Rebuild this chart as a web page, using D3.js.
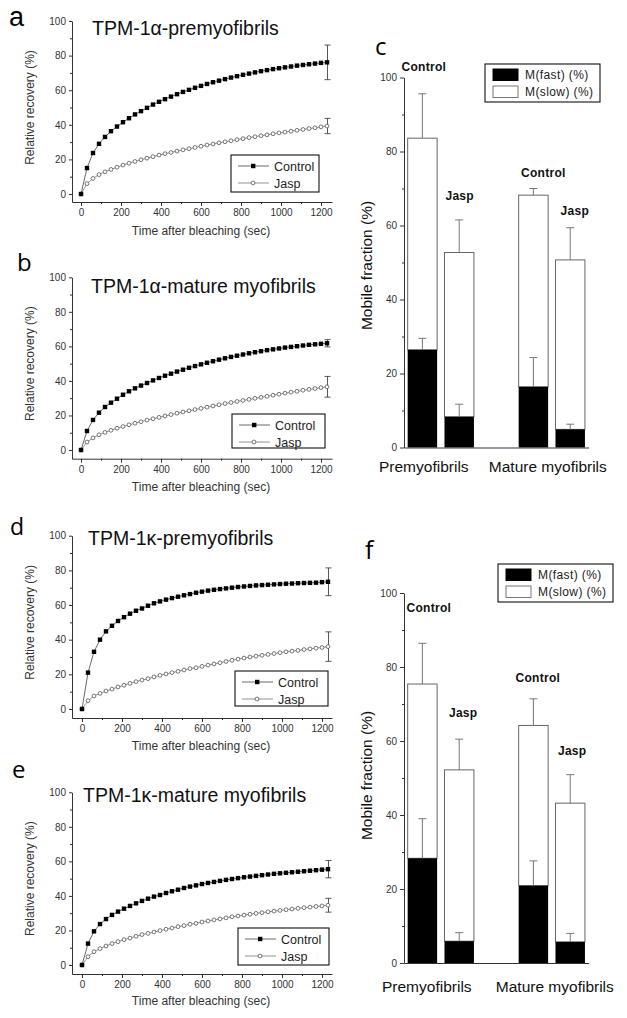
<!DOCTYPE html>
<html><head><meta charset="utf-8">
<script src="https://cdn.jsdelivr.net/npm/d3@7/dist/d3.min.js"></script>
<style>
body{margin:0;background:#fff;}
svg{display:block;font-family:"Liberation Sans",Arial,sans-serif;}
</style></head><body>
<svg id="fig" width="627" height="1018"></svg>
<script>
// ---------- DATA ----------
const times = [0,30,60,90,120,150,180,210,240,270,300,330,360,390,420,450,480,510,540,570,600,630,660,690,720,750,780,810,840,870,900,930,960,990,1020,1050,1080,1110,1140,1170,1200,1230];
const xTickLabels = [0,200,400,600,800,1000,1200];
const xMinorTicks = [100,300,500,700,900,1100];
const yTickLabels = [0,20,40,60,80,100];
const yMinorTicks = [10,30,50,70,90];
const seriesNames = ["Control","Jasp"];

const aControl = [0,15,23.7,29,33,36.3,39,41.5,43.8,46,47.9,49.8,51.7,53.3,54.8,56.3,57.7,59.0,60.2,61.4,62.5,63.6,64.6,65.5,66.4,67.3,68.1,68.9,69.6,70.3,71.0,71.6,72.2,72.7,73.2,73.7,74.2,74.6,75.0,75.4,75.8,76.1];
const aJasp = [0,6.0,9.0,11.2,12.8,14.2,15.5,16.7,17.8,18.8,19.8,20.7,21.6,22.5,23.3,24.0,24.8,25.5,26.2,26.9,27.6,28.3,28.9,29.6,30.2,30.8,31.4,32.0,32.6,33.1,33.7,34.2,34.8,35.3,35.8,36.3,36.8,37.3,37.8,38.3,38.8,39.3];
const aErr = [10, 4.4];

const bControl = [0,11,17.4,21.6,24.9,27.4,29.7,32,34,35.7,37.3,38.8,40.3,41.7,43,44.2,45.4,46.5,47.6,48.6,49.6,50.5,51.4,52.3,53.1,53.9,54.6,55.3,56.0,56.6,57.2,57.8,58.3,58.8,59.3,59.7,60.1,60.5,60.9,61.2,61.5,61.8];
const bJasp = [0,4.6,7.0,8.8,10.2,11.4,12.6,13.6,14.6,15.5,16.4,17.3,18.1,18.9,19.7,20.5,21.3,22.0,22.7,23.4,24.1,24.8,25.5,26.2,26.9,27.5,28.1,28.7,29.3,29.9,30.5,31.1,31.7,32.3,32.9,33.5,34.0,34.6,35.1,35.6,36.1,36.6];
const bErr = [2.1, 6];

const dControl = [0,21,33,40,44.8,48,50.8,53,55,56.7,58,59.6,61,62.1,63.1,64,64.8,65.6,66.3,67.1,67.7,68.3,68.8,69.2,69.6,70.0,70.4,70.7,71.0,71.3,71.5,71.7,71.9,72.1,72.3,72.4,72.6,72.7,72.8,72.9,73.2,73.4];
const dJasp = [0,4.8,7.5,9,10.4,11.5,12.7,13.7,14.8,15.8,16.7,17.5,18.5,19.4,20.2,21,21.7,22.5,23.3,23.8,24.6,25.3,26.0,26.7,27.4,28.1,28.8,29.4,30.0,30.5,31.0,31.5,32.0,32.5,33.0,33.4,33.8,34.3,34.7,35.1,35.5,36.0];
const dErr = [8, 8.5];

const eControl = [0,12.4,19.5,23.7,26.6,29,30.9,32.6,34.2,35.7,37.1,38.4,39.6,40.5,41.7,42.7,43.6,44.6,45.4,46.1,46.9,47.5,48.1,48.7,49.3,49.8,50.3,50.8,51.2,51.6,52.0,52.4,52.8,53.1,53.4,53.7,54.0,54.3,54.6,54.9,55.2,55.5];
const eJasp = [0,4.8,7.7,9.5,11,12.4,13.5,14.7,15.6,16.6,17.6,18.3,19.1,19.9,20.7,21.4,22.2,22.8,23.6,24.1,24.9,25.5,26.1,26.7,27.3,27.9,28.4,28.9,29.4,29.9,30.3,30.8,31.2,31.6,32.0,32.4,32.8,33.2,33.5,33.9,34.2,34.6];
const eErr = [5, 4];

const barGroups = ["Premyofibrils","Mature myofibrils"];
const barConds = ["Control","Jasp"];
const barKeys = ["M(fast) (%)","M(slow) (%)"];
// order: Premyo-Control, Premyo-Jasp, Mature-Control, Mature-Jasp
const cFast = [26.4, 8.3, 16.4, 4.9];
const cFastErr = [3.1, 3.4, 7.9, 1.4];
const cSlow = [57.2, 44.4, 51.8, 45.8];
const cTotalErr = [12.0, 8.8, 1.8, 8.7];

const fFast = [28.3, 5.9, 20.9, 5.7];
const fFastErr = [10.7, 2.3, 6.7, 2.3];
const fSlow = [47.1, 46.3, 43.3, 37.5];
const fTotalErr = [11.0, 8.3, 7.2, 7.7];

// ---------- DRAW ----------
const svg = d3.select("#fig");
const AX = "#333";
const fmt = d3.format("d");

function styleAxis(s, fs){
  s.select(".domain").attr("stroke", AX).attr("stroke-width", 1);
  s.selectAll(".tick line").attr("stroke", AX).attr("stroke-width", 1);
  s.selectAll(".tick text").attr("fill", "#333").attr("font-size", fs || 10)
    .attr("font-family", '"Liberation Sans", Arial, sans-serif');
}

const linePanels = [
  {letter:"a", letterX:9, letterY:25.5, letterSize:27, letterFont:'"Liberation Sans",Arial,sans-serif', title:"TPM-1\u03b1-premyofibrils", titleX:92, titleY:34.5,
   ctrl:aControl, jasp:aJasp, err:aErr, x0:81, yTop:21, yZero:194, axisY:202, xLabelY:235, legX:231, legY:155, legW:88, legH:37},
  {letter:"b", letterX:17, letterY:271, letterSize:24, title:"TPM-1\u03b1-mature myofibrils", titleX:91, titleY:293,
   ctrl:bControl, jasp:bJasp, err:bErr, x0:81, yTop:277.3, yZero:450, axisY:458.7, xLabelY:491, legX:232, legY:414, legW:93, legH:34},
  {letter:"d", letterX:10, letterY:535, letterSize:23, title:"TPM-1\u03ba-premyofibrils", titleX:88, titleY:545,
   ctrl:dControl, jasp:dJasp, err:dErr, x0:82, yTop:535.7, yZero:709, axisY:718, xLabelY:750, legX:235, legY:671, legW:93, legH:35},
  {letter:"e", letterX:12, letterY:778, letterSize:24, title:"TPM-1\u03ba-mature myofibrils", titleX:83, titleY:802,
   ctrl:eControl, jasp:eJasp, err:eErr, x0:82, yTop:792.3, yZero:965, axisY:974, xLabelY:1005, legX:238, legY:928, legW:91, legH:37}
];

function drawLinePanel(p){
  const g = svg.append("g");
  const k = (p.yZero - p.yTop) / 100;
  const x = d3.scaleLinear().domain([(72 - p.x0) / 0.2, (332 - p.x0) / 0.2]).range([72, 332]);
  const y = d3.scaleLinear().domain([-(p.axisY - p.yZero) / k, 100]).range([p.axisY, p.yTop]);

  g.append("g").attr("transform", `translate(0,${p.axisY})`)
    .call(d3.axisBottom(x).tickValues(xTickLabels).tickFormat(fmt).tickSize(4).tickSizeOuter(0).tickPadding(3))
    .call(s => styleAxis(s, 10));
  g.append("g").attr("transform", `translate(0,${p.axisY})`)
    .call(d3.axisBottom(x).tickValues(xMinorTicks).tickSize(2).tickFormat(""))
    .call(s => { s.select(".domain").remove(); styleAxis(s); });
  g.append("g").attr("transform", `translate(72,0)`)
    .call(d3.axisLeft(y).tickValues(yTickLabels).tickFormat(fmt).tickSize(3).tickSizeOuter(0).tickPadding(3))
    .call(s => styleAxis(s, 10));
  g.append("g").attr("transform", `translate(72,0)`)
    .call(d3.axisLeft(y).tickValues(yMinorTicks).tickSize(2).tickFormat(""))
    .call(s => { s.select(".domain").remove(); styleAxis(s); });

  // labels
  g.append("text").attr("x", p.letterX).attr("y", p.letterY).text(p.letter)
    .attr("font-family", p.letterFont || '"Open Sans","Noto Sans",sans-serif').attr("font-size", p.letterSize).attr("fill", "#000");
  g.append("text").attr("x", p.titleX).attr("y", p.titleY).text(p.title)
    .attr("font-size", 19.5).attr("fill", "#111");
  g.append("text").attr("transform", `translate(34,${(p.yTop + p.yZero) / 2}) rotate(-90)`)
    .attr("text-anchor", "middle").attr("font-size", 12).attr("fill", "#333").text("Relative recovery (%)");
  g.append("text").attr("x", 201).attr("y", p.xLabelY).attr("text-anchor", "middle")
    .attr("font-size", 12).attr("fill", "#333").text("Time after bleaching (sec)");

  const line = d3.line().x((d, i) => x(times[i])).y(d => y(d));
  g.append("path").datum(p.jasp).attr("d", line).attr("fill", "none").attr("stroke", "#777").attr("stroke-width", 0.8);
  g.append("path").datum(p.ctrl).attr("d", line).attr("fill", "none").attr("stroke", "#444").attr("stroke-width", 0.8);

  // error bars at last point
  const li = times.length - 1;
  [[p.ctrl, p.err[0]], [p.jasp, p.err[1]]].forEach(([s, e]) => {
    const cx = x(times[li]) + 0.5, v = s[li];
    const eg = g.append("g").attr("stroke", "#444").attr("stroke-width", 0.9);
    eg.append("line").attr("x1", cx).attr("x2", cx).attr("y1", y(v - e)).attr("y2", y(v + e));
    eg.append("line").attr("x1", cx - 3).attr("x2", cx + 3).attr("y1", y(v - e)).attr("y2", y(v - e));
    eg.append("line").attr("x1", cx - 3).attr("x2", cx + 3).attr("y1", y(v + e)).attr("y2", y(v + e));
  });

  g.append("g").selectAll("circle").data(p.jasp).join("circle")
    .attr("cx", (d, i) => x(times[i])).attr("cy", d => y(d)).attr("r", 1.9)
    .attr("fill", "#fff").attr("stroke", "#555").attr("stroke-width", 0.8);
  g.append("g").selectAll("rect").data(p.ctrl).join("rect")
    .attr("x", (d, i) => x(times[i]) - 2.2).attr("y", d => y(d) - 2.2)
    .attr("width", 4.4).attr("height", 4.4).attr("fill", "#000");

  // legend
  const lg = g.append("g").attr("transform", `translate(${p.legX},${p.legY})`);
  lg.append("rect").attr("width", p.legW).attr("height", p.legH).attr("fill", "#fff").attr("stroke", "#111").attr("stroke-width", 1.1);
  seriesNames.forEach((name, i) => {
    const cy = i === 0 ? 11 : 28;
    lg.append("line").attr("x1", 7).attr("x2", 38).attr("y1", cy).attr("y2", cy)
      .attr("stroke", i === 0 ? "#444" : "#777").attr("stroke-width", 0.8);
    if (i === 0) lg.append("rect").attr("x", 20).attr("y", cy - 2.2).attr("width", 4.4).attr("height", 4.4).attr("fill", "#000");
    else lg.append("circle").attr("cx", 22).attr("cy", cy).attr("r", 1.9).attr("fill", "#fff").attr("stroke", "#555").attr("stroke-width", 0.8);
    lg.append("text").attr("x", 43).attr("y", cy + 4.5).attr("font-size", 12.5).attr("fill", "#222").text(name);
  });
}
linePanels.forEach(drawLinePanel);

const barPanels = [
  {letter:"c", letterX:375, letterY:55, letterSize:24, fast:cFast, fastErr:cFastErr, slow:cSlow, totalErr:cTotalErr,
   yTop:77.5, yZero:447.5, yLabelY:265.5, catY:472, catDx:[-17,-4],
   labDy:[23,20,12,12.6], labDx:[1.5,0.5,10,4.6], legX:485, legY:64, legW:115, legH:38},
  {letter:"f", letterX:365, letterY:559, letterSize:25, fast:fFast, fastErr:fFastErr, slow:fSlow, totalErr:fTotalErr,
   yTop:593, yZero:963, yLabelY:775.5, catY:992, catDx:[-14,3],
   labDy:[31,22,17,20], labDx:[6.5,4,4.5,2], legX:498, legY:564, legW:115, legH:38}
];

function drawBarPanel(p){
  const g = svg.append("g");
  const y = d3.scaleLinear().domain([0, 100]).range([p.yZero, p.yTop]);
  const x0 = d3.scaleBand().domain(barGroups).range([404, 588.6]).paddingInner(0.403).paddingOuter(0.033);
  const x1 = d3.scaleBand().domain(barConds).range([0, x0.bandwidth()]).paddingInner(0.2);

  const rows = [];
  barGroups.forEach((grp, gi) => barConds.forEach((cond, ci) => {
    const i = gi * 2 + ci;
    rows.push({group: grp, cond: cond, fast: p.fast[i], slow: p.slow[i], fastErr: p.fastErr[i], totalErr: p.totalErr[i], idx: i});
  }));
  const stack = d3.stack().keys(["fast", "slow"])(rows);
  const bx = d => x0(d.data.group) + x1(d.data.cond);

  g.append("g").selectAll("rect").data(stack[1]).join("rect")
    .attr("x", d => bx(d)).attr("width", x1.bandwidth())
    .attr("y", d => y(d[1])).attr("height", d => y(d[0]) - y(d[1]))
    .attr("fill", "#fff").attr("stroke", "#666").attr("stroke-width", 1);
  g.append("g").selectAll("rect").data(stack[0]).join("rect")
    .attr("x", d => bx(d)).attr("width", x1.bandwidth())
    .attr("y", d => y(d[1])).attr("height", d => y(d[0]) - y(d[1]))
    .attr("fill", "#000");

  const errs = [];
  stack[0].forEach(d => errs.push({cx: bx(d) + x1.bandwidth() / 2, v: d[1], e: d.data.fastErr}));
  stack[1].forEach(d => errs.push({cx: bx(d) + x1.bandwidth() / 2, v: d[1], e: d.data.totalErr}));
  const eg = g.append("g").attr("stroke", "#777").attr("stroke-width", 1);
  errs.forEach(o => {
    eg.append("line").attr("x1", o.cx).attr("x2", o.cx).attr("y1", y(o.v)).attr("y2", y(o.v + o.e));
    eg.append("line").attr("x1", o.cx - 4).attr("x2", o.cx + 4).attr("y1", y(o.v + o.e)).attr("y2", y(o.v + o.e));
  });

  g.append("g").attr("transform", `translate(404,0)`)
    .call(d3.axisLeft(y).tickValues(yTickLabels).tickFormat(fmt).tickSize(4).tickSizeOuter(0).tickPadding(3))
    .call(s => styleAxis(s, 10));
  g.append("g").attr("transform", `translate(404,0)`)
    .call(d3.axisLeft(y).tickValues(yMinorTicks).tickSize(2).tickFormat(""))
    .call(s => { s.select(".domain").remove(); styleAxis(s); });
  g.append("g").attr("transform", `translate(0,${p.yZero})`)
    .call(d3.axisBottom(x0).tickSize(0).tickSizeOuter(0).tickFormat(""))
    .call(s => styleAxis(s));

  stack[1].forEach(d => {
    const i = d.data.idx;
    g.append("text").attr("x", bx(d) + x1.bandwidth() / 2 + p.labDx[i])
      .attr("y", y(d[1] + d.data.totalErr) - p.labDy[i])
      .attr("text-anchor", "middle").attr("font-weight", "bold").attr("font-size", 12)
      .attr("letter-spacing", 0.3).attr("fill", "#111").text(d.data.cond);
  });

  barGroups.forEach((grp, gi) => {
    g.append("text").attr("x", x0(grp) + x0.bandwidth() / 2 + p.catDx[gi]).attr("y", p.catY)
      .attr("text-anchor", "middle").attr("font-size", 15.5).attr("fill", "#111").text(grp);
  });

  g.append("text").attr("transform", `translate(372,${p.yLabelY}) rotate(-90)`)
    .attr("text-anchor", "middle").attr("font-size", 15.5).attr("fill", "#111").text("Mobile fraction (%)");

  g.append("text").attr("x", p.letterX).attr("y", p.letterY).text(p.letter)
    .attr("font-family", '"Open Sans","Noto Sans",sans-serif').attr("font-size", p.letterSize).attr("fill", "#000");

  const lg = g.append("g").attr("transform", `translate(${p.legX},${p.legY})`);
  lg.append("rect").attr("width", p.legW).attr("height", p.legH).attr("fill", "#fff").attr("stroke", "#111").attr("stroke-width", 1.1);
  barKeys.forEach((k, i) => {
    const ty = i === 0 ? 5 : 22;
    lg.append("rect").attr("x", 8).attr("y", ty).attr("width", 25).attr("height", 11.5)
      .attr("fill", i === 0 ? "#000" : "#fff").attr("stroke", i === 0 ? "#000" : "#777");
    lg.append("text").attr("x", 40).attr("y", ty + 10).attr("font-size", 12).attr("letter-spacing", 0.4)
      .attr("fill", "#222").text(k);
  });
}
barPanels.forEach(drawBarPanel);
</script>
</body></html>
